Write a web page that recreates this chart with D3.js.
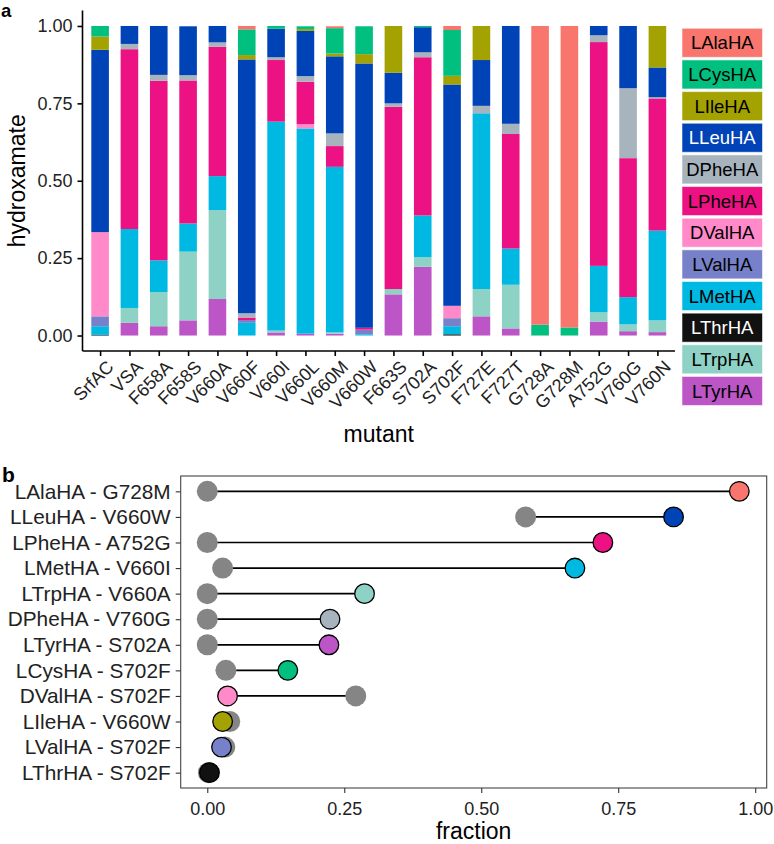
<!DOCTYPE html>
<html>
<head>
<meta charset="utf-8">
<script src="https://cdn.jsdelivr.net/npm/d3@7"></script>
<style>
  body { margin: 0; background: #fff; }
  text { font-family: "Liberation Sans", Arial, sans-serif; }
</style>
</head>
<body>
<svg id="chart" width="774" height="844"></svg>
<script>
// ---- data, panel a ----
const mutants = ["SrfAC", "VSA", "F658A", "F658S", "V660A", "V660F", "V660I", "V660L", "V660M", "V660W",
                 "F663S", "S702A", "S702F", "F727E", "F727T", "G728A", "G728M", "A752G", "V760G", "V760N"];

// legend order (top of the stack first)
const hydroxamates = ["LAlaHA", "LCysHA", "LIleHA", "LLeuHA", "DPheHA", "LPheHA",
                      "DValHA", "LValHA", "LMetHA", "LThrHA", "LTrpHA", "LTyrHA"];
const hydroxColors = ["#f8766d", "#00bf7f", "#a3a200", "#0043b6", "#a8b4bd", "#ec1283",
                      "#ff89c9", "#7681c9", "#00b9e2", "#111111", "#8ed2c6", "#bc55c6"];
const legendTextColors = ["#000", "#000", "#000", "#fff", "#000", "#000",
                          "#000", "#000", "#000", "#fff", "#000", "#000"];

// fraction of each hydroxamate per mutant (same order as mutants)
const LAlaHA = [0, 0, 0, 0, 0, 0.011, 0, 0, 0.006, 0, 0, 0, 0.013, 0, 0, 0.965, 0.974, 0, 0, 0];
const LCysHA = [0.034, 0, 0, 0, 0, 0.083, 0.009, 0.009, 0.082, 0.090, 0, 0.004, 0.148, 0, 0, 0.035, 0.026, 0, 0, 0];
const LIleHA = [0.043, 0, 0, 0, 0, 0.014, 0, 0.006, 0.009, 0.030, 0.151, 0, 0.028, 0.110, 0, 0, 0, 0, 0, 0.134];
const LLeuHA = [0.589, 0.058, 0.158, 0.158, 0.053, 0.820, 0.092, 0.146, 0.249, 0.854, 0.099, 0.081, 0.715, 0.148, 0.316, 0, 0, 0.030, 0.201, 0.096];
const DPheHA = [0, 0.017, 0.019, 0.017, 0.014, 0.014, 0.009, 0.018, 0.041, 0, 0.011, 0.016, 0, 0.024, 0.033, 0, 0, 0.022, 0.226, 0.004];
const LPheHA = [0, 0.581, 0.580, 0.462, 0.418, 0.008, 0.199, 0.137, 0.067, 0.006, 0.589, 0.511, 0, 0, 0.370, 0, 0, 0.723, 0.449, 0.427];
const DValHA = [0.272, 0, 0, 0, 0, 0, 0, 0.014, 0, 0, 0, 0, 0.040, 0, 0, 0, 0, 0, 0, 0];
const LValHA = [0.032, 0, 0, 0, 0, 0.009, 0, 0, 0, 0.015, 0, 0, 0.026, 0, 0, 0, 0, 0, 0, 0];
const LMetHA = [0.028, 0.255, 0.103, 0.091, 0.110, 0.041, 0.675, 0.663, 0.535, 0.004, 0, 0.135, 0.026, 0.568, 0.117, 0, 0, 0.150, 0.088, 0.290];
const LThrHA = [0.002, 0, 0, 0, 0, 0, 0, 0, 0, 0, 0, 0, 0.004, 0, 0, 0, 0, 0, 0, 0];
const LTrpHA = [0, 0.048, 0.110, 0.222, 0.287, 0, 0.006, 0, 0.004, 0, 0.017, 0.031, 0, 0.088, 0.141, 0, 0, 0.030, 0.022, 0.038];
const LTyrHA = [0, 0.041, 0.030, 0.049, 0.118, 0, 0.010, 0.006, 0.006, 0, 0.133, 0.222, 0, 0.062, 0.023, 0, 0, 0.045, 0.014, 0.011];

const yTicks = [0, 0.25, 0.5, 0.75, 1];

// ---- data, panel b ----
const pairLabels = ["LAlaHA - G728M", "LLeuHA - V660W", "LPheHA - A752G", "LMetHA - V660I",
                    "LTrpHA - V660A", "DPheHA - V760G", "LTyrHA - S702A", "LCysHA - S702F",
                    "DValHA - S702F", "LIleHA - V660W", "LValHA - S702F", "LThrHA - S702F"];
const wildTypeFraction = [0, 0.581, 0, 0.028, 0, 0, 0, 0.034, 0.271, 0.041, 0.032, 0.002];
const mutantFraction = [0.971, 0.851, 0.722, 0.671, 0.287, 0.224, 0.222, 0.147, 0.037, 0.028, 0.026, 0.004];
const fractionTicks = [0, 0.25, 0.5, 0.75, 1];

// build table for stacking
const series = {LAlaHA, LCysHA, LIleHA, LLeuHA, DPheHA, LPheHA, DValHA, LValHA, LMetHA, LThrHA, LTrpHA, LTyrHA};
const table = mutants.map((m, i) => {
    let row = {mutant: m};
    hydroxamates.forEach(h => row[h] = series[h][i]);
    return row;
});
const color = d3.scaleOrdinal().domain(hydroxamates).range(hydroxColors);

const svg = d3.select("#chart");

// ===================== panel a =====================
const a = {left: 82.5, right: 675, top: 10.5, bottom: 351};

const x = d3.scalePoint().domain(mutants).range([a.left, a.right]).padding(0.6);
const barW = x.step() * 0.6;
const y = d3.scaleLinear()
    .domain([-0.05, 1.05])
    .range([a.bottom, a.top]);

// bottom of stack is the last legend entry
const stackKeys = hydroxamates.slice().reverse();
const stacked = d3.stack().keys(stackKeys)(table);

svg.append("g").selectAll("g")
    .data(stacked)
    .join("g")
    .attr("fill", d => color(d.key))
    .selectAll("rect")
    .data(d => d)
    .join("rect")
    .attr("x", d => x(d.data.mutant) - barW / 2)
    .attr("width", barW)
    .attr("y", d => y(d[1]))
    .attr("height", d => y(d[0]) - y(d[1]));

let yAxis = svg.append("g")
    .attr("transform", `translate(${a.left},0)`)
    .call(d3.axisLeft(y).tickValues(yTicks).tickFormat(d3.format(".2f")).tickSize(5).tickPadding(5));
yAxis.select(".domain").attr("d", `M0,${a.top}V${a.bottom}`);

let xAxis = svg.append("g")
    .attr("transform", `translate(0,${a.bottom})`)
    .call(d3.axisBottom(x).tickSize(5).tickSizeOuter(0));
xAxis.select(".domain").attr("d", `M${a.left},0H${a.right}`);
xAxis.selectAll("text")
    .attr("text-anchor", "end")
    .attr("y", 0)
    .attr("dy", "0.72em")
    .attr("transform", "translate(5,8) rotate(-45)");

[yAxis, xAxis].forEach(g => {
    g.selectAll(".domain, line").attr("stroke", "#000").attr("stroke-width", 1.6);
    g.selectAll("text").attr("font-size", 18).attr("fill", "#222")
        .attr("font-family", "Liberation Sans, Arial, sans-serif");
});

svg.append("text")
    .attr("transform", `translate(25,${(y(0) + y(1)) / 2}) rotate(-90)`)
    .attr("text-anchor", "middle")
    .attr("font-size", 23)
    .text("hydroxamate");

svg.append("text")
    .attr("x", (a.left + a.right) / 2)
    .attr("y", 441.5)
    .attr("text-anchor", "middle")
    .attr("font-size", 23)
    .text("mutant");

svg.append("text")
    .attr("x", 1).attr("y", 17)
    .attr("font-size", 18.5).attr("font-weight", "bold")
    .text("a");

// legend boxes
const legend = svg.append("g").selectAll("g")
    .data(hydroxamates)
    .join("g")
    .attr("transform", (d, i) => `translate(682,${28.3 + i * 31.65})`);
legend.append("rect")
    .attr("width", 80.5).attr("height", 29)
    .attr("fill", d => color(d))
    .attr("stroke", "#fff").attr("stroke-opacity", 0.55).attr("stroke-width", 1);
legend.append("text")
    .attr("x", 40.25).attr("y", 14.5)
    .attr("dy", "0.36em")
    .attr("text-anchor", "middle")
    .attr("font-family", "DejaVu Sans, Verdana, sans-serif")
    .attr("font-size", 18.5)
    .attr("fill", (d, i) => legendTextColors[i])
    .text(d => d);

// ===================== panel b =====================
const b = {left: 180.7, right: 766.7, top: 476, bottom: 788};

const fx = d3.scaleLinear().domain([-0.0485, 1.021]).range([b.left, b.right]);
const fy = d3.scalePoint().domain(pairLabels).range([b.top, b.bottom]).padding(0.6);

svg.append("rect")
    .attr("x", b.left).attr("y", b.top)
    .attr("width", b.right - b.left).attr("height", b.bottom - b.top)
    .attr("fill", "none").attr("stroke", "#444").attr("stroke-width", 1.1);

const pairs = pairLabels.map((p, i) => ({
    label: p,
    hydrox: p.split(" - ")[0],
    wt: wildTypeFraction[i],
    mut: mutantFraction[i]
}));

let lolli = svg.append("g");
lolli.selectAll("line")
    .data(pairs)
    .join("line")
    .attr("x1", d => fx(d.wt)).attr("x2", d => fx(d.mut))
    .attr("y1", d => fy(d.label)).attr("y2", d => fy(d.label))
    .attr("stroke", "#000").attr("stroke-width", 1.7);

lolli.selectAll("circle.wt")
    .data(pairs)
    .join("circle")
    .classed("wt", true)
    .attr("cx", d => fx(d.wt)).attr("cy", d => fy(d.label))
    .attr("r", 10.5)
    .attr("fill", "#858585");

lolli.selectAll("circle.mut")
    .data(pairs)
    .join("circle")
    .classed("mut", true)
    .attr("cx", d => fx(d.mut)).attr("cy", d => fy(d.label))
    .attr("r", 9.8)
    .attr("fill", d => color(d.hydrox))
    .attr("stroke", "#000").attr("stroke-width", 1.3);

let bx = svg.append("g")
    .attr("transform", `translate(0,${b.bottom})`)
    .call(d3.axisBottom(fx).tickValues(fractionTicks).tickFormat(d3.format(".2f")).tickSize(5).tickPadding(9));
let by = svg.append("g")
    .attr("transform", `translate(${b.left},0)`)
    .call(d3.axisLeft(fy).tickSize(5).tickPadding(5));
[bx, by].forEach(g => {
    g.select(".domain").remove();
    g.selectAll("line").attr("stroke", "#333").attr("stroke-width", 1.1);
    g.selectAll("text").attr("fill", "#222")
        .attr("font-family", "Liberation Sans, Arial, sans-serif");
});
bx.selectAll("text").attr("font-size", 18);
by.selectAll("text").attr("font-size", 20.8);

svg.append("text")
    .attr("x", (b.left + b.right) / 2)
    .attr("y", 839)
    .attr("text-anchor", "middle")
    .attr("font-size", 23)
    .text("fraction");

svg.append("text")
    .attr("x", 2).attr("y", 482)
    .attr("font-size", 21).attr("font-weight", "bold")
    .text("b");
</script>
</body>
</html>
